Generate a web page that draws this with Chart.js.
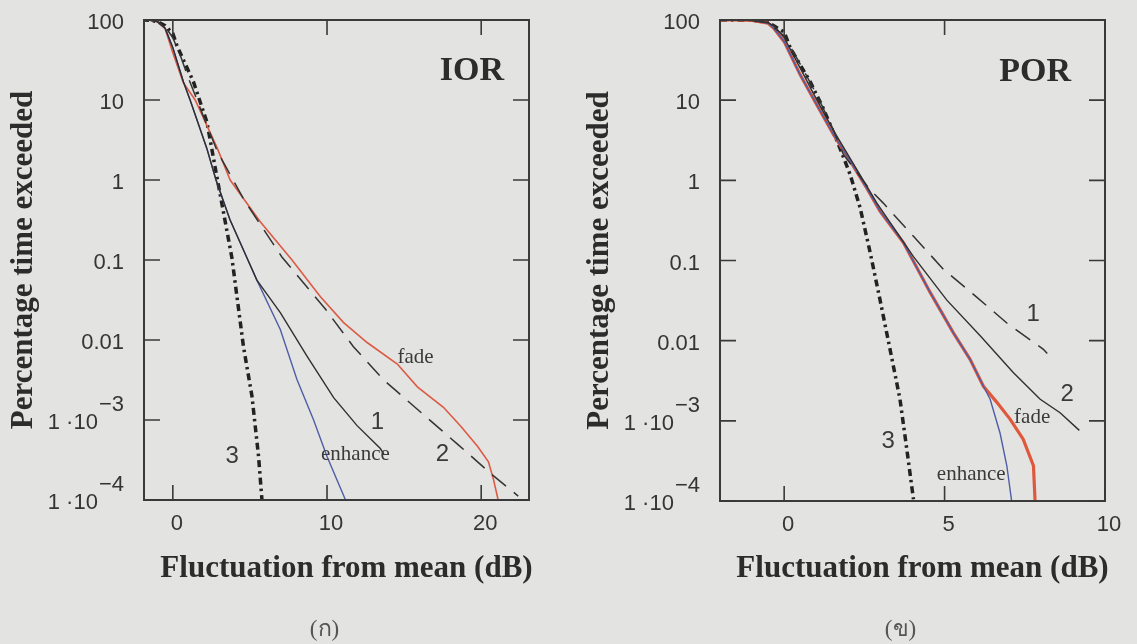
<!DOCTYPE html>
<html>
<head>
<meta charset="utf-8">
<script src="https://cdn.jsdelivr.net/npm/chart.js"></script>
<style>
  body { margin: 0; background: #e3e3e1; }
  #wrap { position: relative; width: 1137px; height: 644px; overflow: hidden; }
  canvas { position: absolute; top: 0; }
</style>
</head>
<body>
<div id="wrap">
  <canvas id="iorChart" width="560" height="644" style="left:0"></canvas>
  <canvas id="porChart" width="577" height="644" style="left:560px"></canvas>
</div>
<script>
// shared y axis (percentage time exceeded, log)
const yTicks = [100, 10, 1, 0.1, 0.01, 0.001, 0.0001];
const yTickMain = ['100', '10', '1', '0.1', '0.01', '1 \u00b710', '1 \u00b710'];
const yTickSup = ['', '', '', '', '', '\u22123', '\u22124'];

// (ก) IOR
const iorXTicks = [0, 10, 20];
const iorFadeX = [-2, -1.5, -1, -0.5, 0, 0.67, 1.45, 2.88, 3.72, 4.18, 5.67, 7.73, 9.56, 11.06, 12.6, 14.56, 15.86, 17.55, 18.66, 19.76, 20.47, 20.8, 21.1];
const iorFadeY = [100, 99.5, 95, 78, 39, 16.6, 10, 2.5, 1, 0.75, 0.3, 0.1, 0.035, 0.0166, 0.0093, 0.005, 0.0026, 0.00144, 0.00084, 0.00047, 0.0003, 0.00018, 0.0001];
const iorEnhX = [-2, -1.5, -1, -0.5, 0, 0.69, 1.12, 2.2, 2.8, 3.7, 4.87, 5.45, 6.97, 8.05, 9.13, 10.0, 11.2];
const iorEnhY = [100, 99.5, 95.5, 79, 45, 16.8, 10, 2.5, 1, 0.32, 0.1, 0.056, 0.0135, 0.0032, 0.001, 0.00035, 0.0001];
const iorOneX = [-2, -1.5, -1, -0.5, 0, 0.69, 1.12, 2.2, 2.8, 3.7, 4.87, 5.45, 6.97, 8.7, 10.43, 11.95, 13.46, 13.7];
const iorOneY = [100, 99.5, 95.5, 79, 45, 16.8, 10, 2.5, 1, 0.32, 0.1, 0.056, 0.022, 0.0063, 0.0019, 0.00085, 0.00044, 0.00037];
const iorTwoX = [-2, -1.5, -1, -0.5, 0, 0.5, 1, 1.99, 2.88, 4.63, 7.06, 9.92, 11.7, 13.65, 16.06, 18.46, 20.8, 22.4];
const iorTwoY = [100, 99.5, 95.5, 83, 60, 35.5, 19, 6.2, 2.3, 0.56, 0.11, 0.024, 0.0083, 0.0032, 0.00126, 0.0005, 0.0002, 0.000112];
const iorThreeX = [-2, -1.5, -1, -0.5, 0, 0.26, 1.34, 1.73, 2.21, 2.8, 3.3, 3.83, 4.58, 5.13, 5.56, 5.78];
const iorThreeY = [100, 99.5, 95.5, 85, 68, 48, 16.8, 10, 5.3, 1.26, 0.38, 0.107, 0.0083, 0.002, 0.00035, 0.0001];

// (ข) POR
const porXTicks = [0, 5, 10];
const porFadeX = [-2, -1.5, -1, -0.5, -0.33, 0, 0.5, 1.02, 1.54, 2.06, 2.58, 2.99, 3.72, 4.55, 5.27, 5.79, 6.21, 6.63, 7.04, 7.45, 7.77, 7.82];
const porFadeY = [100, 100, 98.9, 91.2, 79.4, 53.7, 20.7, 8.7, 3.72, 1.74, 0.79, 0.41, 0.166, 0.04, 0.0126, 0.0059, 0.0027, 0.0017, 0.00105, 0.00059, 0.000275, 0.0001];
const porEnhX = [-2, -1.5, -1, -0.5, -0.33, 0, 0.5, 1.02, 1.54, 2.06, 2.58, 2.99, 3.72, 4.55, 5.27, 5.79, 6.21, 6.42, 6.73, 6.94, 7.09];
const porEnhY = [100, 100, 98.9, 91.2, 79.4, 53.7, 20.7, 8.7, 3.72, 1.74, 0.79, 0.41, 0.166, 0.04, 0.0126, 0.0059, 0.0027, 0.00186, 0.0007, 0.000275, 0.0001];
const porOneX = [-2, -1.5, -1, -0.5, 0, 0.5, 1.0, 1.5, 1.85, 2.68, 3.09, 4.03, 4.96, 6.0, 6.94, 8.08, 8.2];
const porOneY = [100, 100, 98.9, 92.3, 63.1, 28.2, 12, 4.57, 2.09, 0.76, 0.52, 0.2, 0.078, 0.035, 0.0166, 0.0078, 0.0069];
const porTwoX = [-2, -1.5, -1, -0.5, -0.3, 0, 0.5, 1.02, 1.54, 2.06, 2.89, 4.03, 5.07, 6.11, 7.14, 7.98, 8.6, 9.2];
const porTwoY = [100, 100, 98.9, 92.3, 83.2, 60.3, 25.1, 10, 4.17, 1.86, 0.52, 0.112, 0.032, 0.0115, 0.004, 0.00186, 0.00126, 0.00076];
const porThreeX = [-2, -1.5, -1, -0.5, 0, 0.19, 0.81, 1.22, 1.74, 2.06, 2.37, 2.68, 2.99, 3.30, 3.61, 3.82, 4.03];
const porThreeY = [100, 100, 98.9, 93.3, 70.8, 44.7, 17, 7.9, 2.51, 1.17, 0.45, 0.126, 0.032, 0.0078, 0.00186, 0.00045, 0.000105];

function series(xs, ys, color, width, dash) {
  return {
    data: xs.map((x, i) => ({ x: x, y: ys[i] })),
    borderColor: color,
    borderWidth: width,
    borderDash: dash || [],
    borderCapStyle: 'butt',
    pointRadius: 0,
    tension: 0,
    fill: false
  };
}

// frame, inward ticks, tick labels, titles and curve notes
const paperPlugin = {
  id: 'paper',
  afterDraw(chart, args, o) {
    const ctx = chart.ctx, a = chart.chartArea;
    const xs = chart.scales.x, ys = chart.scales.y;
    ctx.save();
    ctx.strokeStyle = '#3a3a3a';
    ctx.lineWidth = 2;
    ctx.strokeRect(a.left, a.top, a.right - a.left, a.bottom - a.top);
    ctx.lineWidth = 1.6;
    ctx.beginPath();
    o.xTicks.forEach(v => {
      const px = xs.getPixelForValue(v);
      ctx.moveTo(px, a.bottom); ctx.lineTo(px, a.bottom - 15);
      ctx.moveTo(px, a.top); ctx.lineTo(px, a.top + 15);
    });
    yTicks.forEach(v => {
      const py = ys.getPixelForValue(v);
      ctx.moveTo(a.left, py); ctx.lineTo(a.left + 16, py);
      ctx.moveTo(a.right, py); ctx.lineTo(a.right - 16, py);
    });
    ctx.stroke();

    ctx.fillStyle = '#353535';
    ctx.font = '22px "Liberation Sans"';
    ctx.textAlign = 'center';
    ctx.textBaseline = 'middle';
    o.xTicks.forEach(v => ctx.fillText(String(v), xs.getPixelForValue(v) + 4, a.bottom + 24));

    ctx.textAlign = 'right';
    yTicks.forEach((v, i) => {
      const py = ys.getPixelForValue(v);
      let right = a.left - 20;
      if (yTickSup[i]) {
        ctx.fillText(yTickSup[i], right, py - 15);
        right -= ctx.measureText(yTickSup[i]).width + 1;
      }
      ctx.fillText(yTickMain[i], right, py + 3);
    });

    ctx.fillStyle = '#2c2c2c';
    ctx.textAlign = 'center';
    ctx.font = 'bold 31px "Liberation Serif"';
    ctx.fillText('Fluctuation from mean (dB)', (a.left + a.right) / 2 + 10, 569);
    ctx.save();
    ctx.translate(a.left - 120, (a.top + a.bottom) / 2);
    ctx.rotate(-Math.PI / 2);
    ctx.fillText('Percentage time exceeded', 0, 0);
    ctx.restore();

    ctx.font = 'bold 34px "Liberation Serif"';
    ctx.fillText(o.panel.text, xs.getPixelForValue(o.panel.x), ys.getPixelForValue(o.panel.y));

    ctx.fillStyle = '#555';
    ctx.font = '23px "Liberation Serif", "Noto Sans", sans-serif';
    ctx.fillText(o.caption, (a.left + a.right) / 2 - 12, 630);

    o.notes.forEach(n => {
      ctx.fillStyle = '#3a3a3a';
      ctx.font = n.serif ? '21px "Liberation Serif"' : '24px "Liberation Sans"';
      ctx.fillText(n.text, xs.getPixelForValue(n.x), ys.getPixelForValue(n.y));
    });
    ctx.restore();
  }
};

function makeChart(id, datasets, xMin, xMax, padding, paper) {
  return new Chart(document.getElementById(id), {
    type: 'line',
    data: { datasets: datasets },
    options: {
      responsive: false,
      animation: false,
      layout: { padding: padding },
      plugins: { legend: { display: false }, tooltip: { enabled: false }, paper: paper },
      scales: {
        x: { type: 'linear', min: xMin, max: xMax, display: false },
        y: { type: 'logarithmic', min: 0.0001, max: 100, display: false }
      }
    },
    plugins: [paperPlugin]
  });
}

makeChart('iorChart', [
  series(iorTwoX, iorTwoY, '#333', 1.5, [18, 10]),
  series(iorOneX, iorOneY, '#2f2f2f', 1.4),
  series(iorEnhX, iorEnhY, '#4f5da6', 1.4),
  series(iorFadeX, iorFadeY, '#dd5a44', 1.6),
  series(iorThreeX, iorThreeY, '#222', 3.5, [7, 4, 2.5, 4])
], -1.87, 23.1, { left: 144, top: 20, right: 31, bottom: 144 }, {
  xTicks: iorXTicks,
  panel: { text: 'IOR', x: 19.4, y: 23 },
  caption: '(\u0e01)',
  notes: [
    { text: 'fade', x: 15.74, y: 0.006, serif: true },
    { text: 'enhance', x: 11.84, y: 0.00037, serif: true },
    { text: '1', x: 13.27, y: 0.00093 },
    { text: '2', x: 17.49, y: 0.00037 },
    { text: '3', x: 3.85, y: 0.00035 }
  ]
});

makeChart('porChart', [
  series(porOneX, porOneY, '#333', 1.5, [18, 10]),
  series(porTwoX, porTwoY, '#2f2f2f', 1.4),
  series(porEnhX, porEnhY, '#4f5da6', 1.4),
  series(porFadeX, porFadeY, '#e0583c', 3.2),
  series(porThreeX, porThreeY, '#222', 3.5, [7, 4, 2.5, 4])
], -2, 10, { left: 160, top: 20, right: 32, bottom: 143 }, {
  xTicks: porXTicks,
  panel: { text: 'POR', x: 7.82, y: 22.4 },
  caption: '(\u0e02)',
  notes: [
    { text: 'fade', x: 7.73, y: 0.0011, serif: true },
    { text: 'enhance', x: 5.83, y: 0.000214, serif: true },
    { text: '1', x: 7.76, y: 0.0213 },
    { text: '2', x: 8.82, y: 0.00214 },
    { text: '3', x: 3.24, y: 0.00055 }
  ]
});
</script>
</body>
</html>
